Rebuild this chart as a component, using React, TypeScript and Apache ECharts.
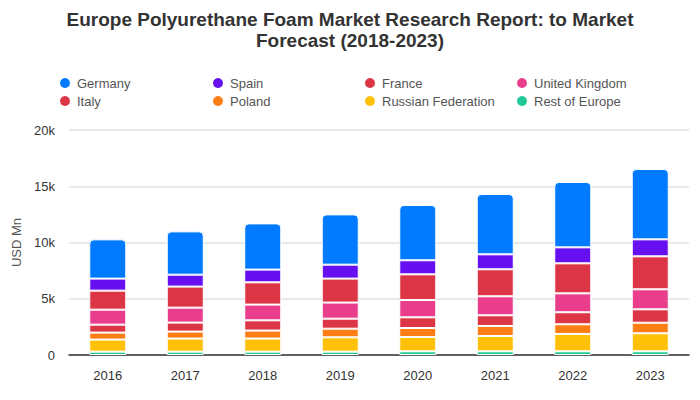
import React, { useEffect, useRef } from "react";
import * as echarts from "echarts";

const years = ["2016", "2017", "2018", "2019", "2020", "2021", "2022", "2023"];
const restOfEurope = [0.3, 0.3, 0.3, 0.3, 0.33, 0.33, 0.33, 0.33];
const russianFederation = [1.07, 1.16, 1.16, 1.27, 1.27, 1.36, 1.54, 1.6];
const poland = [0.62, 0.62, 0.71, 0.77, 0.8, 0.89, 0.86, 0.94];
const italy = [0.71, 0.8, 0.91, 0.89, 0.95, 0.95, 1.07, 1.19];
const unitedKingdom = [1.33, 1.33, 1.4, 1.43, 1.54, 1.69, 1.68, 1.78];
const france = [1.69, 1.87, 1.98, 2.13, 2.28, 2.4, 2.67, 2.93];
const spain = [1.07, 1.06, 1.13, 1.24, 1.25, 1.33, 1.42, 1.51];
const germany = [3.49, 3.85, 4.11, 4.47, 4.91, 5.36, 5.81, 6.25];
const yTicks = [0, 5000, 10000, 15000, 20000];

const FONT = "Liberation Sans, Arial, sans-serif";

export default function App() {
  const ref = useRef<HTMLDivElement>(null);
  useEffect(() => {
    document.body.style.margin = "0";
    const chart = echarts.init(ref.current!, undefined, { renderer: "svg" });
    const toUnits = (a: number[]) => a.map((v) => Math.round(v * 1000));
    const seriesDefs = [
      { name: "Rest of Europe", data: restOfEurope, color: "#20C997" },
      { name: "Russian Federation", data: russianFederation, color: "#FFC107" },
      { name: "Poland", data: poland, color: "#FD7E14" },
      { name: "Italy", data: italy, color: "#DC3545" },
      { name: "United Kingdom", data: unitedKingdom, color: "#E83E8C" },
      { name: "France", data: france, color: "#DC3545" },
      { name: "Spain", data: spain, color: "#6610F2" },
      { name: "Germany", data: germany, color: "#007BFF" },
    ];
    const columns = [
      ["Germany", "Italy"],
      ["Spain", "Poland"],
      ["France", "Russian Federation"],
      ["United Kingdom", "Rest of Europe"],
    ];
    const colX = [53, 206, 358, 510];
    chart.setOption({
      animation: false,
      title: {
        text: "Europe Polyurethane Foam Market Research Report: to Market\nForecast (2018-2023)",
        left: "center",
        top: 4,
        textStyle: {
          fontFamily: FONT,
          fontSize: 19,
          fontWeight: "bold",
          color: "#333333",
          lineHeight: 21,
        },
      },
      legend: columns.map((col, i) => ({
        data: col,
        orient: "vertical",
        left: colX[i],
        top: 71,
        icon: "circle",
        itemWidth: 12,
        itemHeight: 12,
        itemGap: 4,
        textStyle: { fontFamily: FONT, fontSize: 13, color: "#555555", padding: [0, 0, 0, 1] },
        selectedMode: false,
      })),
      grid: { left: 69, right: 11, top: 130, bottom: 45 },
      xAxis: {
        type: "category",
        data: years,
        axisTick: { show: false },
        axisLine: { lineStyle: { color: "#333333", width: 1.5 } },
        axisLabel: { fontFamily: FONT, fontSize: 13, color: "#333333", margin: 14 },
      },
      yAxis: {
        type: "value",
        min: yTicks[0],
        max: yTicks[yTicks.length - 1],
        interval: 5000,
        name: "USD Mn",
        nameLocation: "middle",
        nameGap: 44,
        nameTextStyle: { fontFamily: FONT, fontSize: 13, color: "#555555" },
        axisLabel: {
          fontFamily: FONT,
          fontSize: 13,
          color: "#333333",
          margin: 14,
          formatter: (v: number) => (v === 0 ? "0" : v / 1000 + "k"),
        },
        splitLine: { lineStyle: { color: "#e0e0e0", width: 1.5 } },
      },
      series: seriesDefs.map((s, i) => ({
        name: s.name,
        type: "bar",
        stack: "total",
        data: toUnits(s.data),
        barWidth: 37,
        itemStyle: {
          color: s.color,
          borderColor: "#ffffff",
          borderWidth: 1,
          borderRadius: i === seriesDefs.length - 1 ? [4, 4, 0, 0] : 0,
        },
      })),
    });
    return () => chart.dispose();
  }, []);
  return <div ref={ref} style={{ width: 700, height: 400 }} />;
}
